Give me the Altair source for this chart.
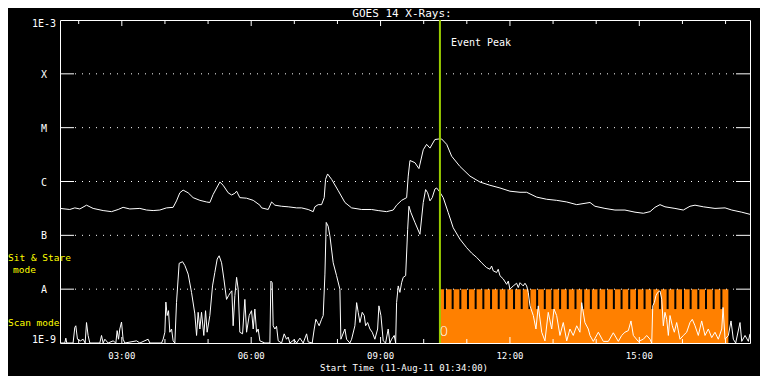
import altair as alt
import pandas as pd

# ---------------- data (time = minutes after 01:34:00 UT, 11-Aug-2011; flux as log10 W/m^2)
t_end = 960                   # 16 hours shown

long_t = [0, 13.6, 20.6, 27.6, 36.9, 46.1, 60.0, 71.7, 80.9, 87.8,
          97.1, 111.1, 120.4, 129.6, 138.9, 148.2, 157.4, 162.1, 166.7, 171.3,
          178.3, 185.2, 194.6, 203.9, 208.5, 213.1, 222.4, 227.0, 234.0, 238.7,
          243.3, 245.7, 250.2, 259.6, 268.8, 278.1, 280.5, 289.7, 294.4, 299.0,
          308.3, 317.5, 329.2, 336.1, 345.3, 352.3, 354.6, 359.2, 363.9, 367.6,
          369.5, 372.3, 377.9, 387.1, 396.4, 405.7, 419.6, 433.5, 442.7, 454.4,
          463.6, 468.3, 475.3, 482.3, 484.5, 486.9, 493.8, 499.4, 505.4, 510.1,
          514.7, 521.6, 527.2, 531.0, 538.0, 544.9, 556.4, 570.4, 584.3, 598.2,
          612.1, 626.0, 640.0, 649.3, 663.2, 677.1, 691.0, 705.0, 718.9, 737.4,
          744.3, 758.2, 772.1, 786.0, 800.0, 811.6, 820.9, 827.8, 834.8, 841.7,
          855.6, 867.2, 876.5, 883.5, 895.1, 911.3, 925.3, 934.6, 948.5, 960.0]
long_lg = [-6.50, -6.52, -6.49, -6.51, -6.44, -6.50, -6.54, -6.56, -6.52, -6.48,
           -6.51, -6.50, -6.53, -6.54, -6.53, -6.49, -6.48, -6.36, -6.21, -6.16,
           -6.21, -6.30, -6.35, -6.38, -6.39, -6.24, -6.01, -6.07, -6.21, -6.25,
           -6.22, -6.18, -6.30, -6.31, -6.35, -6.44, -6.49, -6.52, -6.38, -6.44,
           -6.46, -6.47, -6.49, -6.49, -6.52, -6.56, -6.47, -6.43, -6.43, -6.30,
           -5.96, -5.86, -5.96, -6.17, -6.39, -6.49, -6.52, -6.52, -6.54, -6.56,
           -6.53, -6.44, -6.35, -6.30, -5.90, -5.61, -5.65, -5.76, -5.41, -5.31,
           -5.38, -5.22, -5.21, -5.21, -5.31, -5.53, -5.72, -5.90, -6.01, -6.07,
           -6.12, -6.18, -6.20, -6.20, -6.29, -6.33, -6.35, -6.38, -6.43, -6.39,
           -6.46, -6.50, -6.53, -6.53, -6.57, -6.59, -6.56, -6.48, -6.43, -6.47,
           -6.50, -6.53, -6.46, -6.44, -6.47, -6.50, -6.49, -6.53, -6.57, -6.61]

short_pts = [
    (0, -9), (6.7, -9), (8.1, -8.91), (9.5, -9), (18.2, -9), (20.6, -8.71), (22.0, -8.68), (24.3, -8.93),
    (28.5, -8.96), (32.2, -8.93), (35.0, -9), (36.9, -8.62), (39.1, -8.86), (41.5, -9), (55.4, -9),
    (57.8, -8.86), (60.0, -9), (62.4, -8.93), (67.0, -9), (73.9, -8.96), (77.7, -9), (79.5, -8.77),
    (81.4, -8.93), (83.2, -8.74), (85.6, -8.61), (87.8, -8.93), (90.2, -9), (106.5, -8.96), (111.1, -9),
    (122.6, -8.93), (125.0, -9), (141.3, -9), (143.5, -8.93), (145.9, -8.80), (147.3, -8.24),
    (149.1, -8.49), (151.0, -8.40), (152.8, -8.80), (155.2, -8.74), (157.4, -8.96), (159.8, -9),
    (162.1, -8.25), (165.8, -7.52), (170.5, -7.49), (173.7, -7.56), (178.3, -7.72), (183.0, -8.06),
    (187.6, -8.46), (190.0, -8.86), (192.2, -8.43), (194.6, -8.74), (196.9, -8.43), (200.1, -8.86),
    (202.5, -8.40), (204.7, -8.80), (208.5, -8.49), (212.2, -7.94), (215.4, -7.69), (218.7, -7.44),
    (221.4, -7.38), (224.8, -7.51), (228.0, -7.81), (231.7, -8.19), (234.5, -8.12), (237.3, -8.06),
    (239.1, -8.03), (240.9, -8.68), (243.3, -8.12), (245.7, -7.78), (247.9, -8.00), (250.2, -8.80),
    (254.0, -8.83), (257.2, -8.19), (259.6, -8.80), (263.2, -8.49), (266.5, -8.40), (268.8, -8.74),
    (271.1, -8.37), (273.5, -8.80), (275.7, -8.74), (278.1, -8.96), (285.0, -9), (292.0, -9),
    (293.4, -7.85), (295.2, -7.88), (296.6, -8.68), (299.0, -8.74), (301.3, -8.69), (303.6, -8.96),
    (308.3, -9), (311.9, -8.83), (315.2, -8.93), (317.5, -8.89), (319.8, -9), (325.8, -8.94),
    (329.2, -9), (333.8, -8.91), (338.4, -9), (343.1, -8.83), (345.3, -8.98), (350.9, -9),
    (353.7, -8.74), (356.0, -8.56), (358.4, -8.62), (360.6, -8.68), (363.9, -8.56), (366.2, -8.49),
    (368.6, -7.72), (370.4, -6.76), (373.1, -6.83), (375.5, -7.01), (380.1, -7.51), (384.8, -7.75),
    (389.4, -8.00), (390.8, -8.93), (396.4, -8.74), (398.7, -8.93), (403.3, -9), (405.7, -8.93),
    (410.3, -8.68), (412.7, -8.25), (414.9, -8.43), (417.3, -8.62), (420.5, -8.43), (423.3, -8.49),
    (425.2, -8.68), (428.0, -8.62), (431.2, -8.74), (434.4, -8.80), (438.1, -8.93), (441.9, -8.74),
    (443.7, -8.31), (446.5, -8.49), (449.7, -8.96), (453.0, -9), (456.6, -8.74), (459.0, -9),
    (461.4, -8.93), (465.0, -8.86), (467.0, -9), (468.3, -8.25), (470.6, -7.94), (472.9, -8.06),
    (475.3, -7.88), (477.5, -7.78), (480.9, -7.75), (483.7, -6.89), (485.5, -6.46), (488.3, -6.58),
    (493.8, -6.76), (500.8, -6.98), (505.4, -6.39), (508.7, -6.15), (511.5, -6.21), (514.7, -6.36),
    (517.9, -6.30), (521.6, -6.14), (524.0, -6.12), (527.6, -6.18), (533.2, -6.30), (540.2, -6.58),
    (547.1, -6.86), (556.4, -7.07), (565.8, -7.23), (572.7, -7.33), (579.7, -7.41), (586.6, -7.51),
    (591.2, -7.57), (593.6, -7.60), (598.2, -7.63), (600.5, -7.57), (602.8, -7.66), (607.5, -7.69),
    (609.7, -7.63), (612.1, -7.75), (616.7, -7.81), (621.4, -7.91), (623.7, -7.85), (626.0, -8.00),
    (630.6, -7.94), (635.3, -7.89), (637.6, -7.97), (640.0, -7.88), (644.5, -7.94), (646.9, -7.89),
    (649.3, -7.94), (651.5, -8.06), (653.9, -8.31), (658.5, -8.49), (662.2, -8.74), (665.4, -8.31),
    (670.2, -8.80), (674.7, -8.96), (679.3, -8.43), (684.1, -8.74), (687.3, -8.37), (691.0, -8.49),
    (695.6, -8.86), (700.2, -8.62), (705.0, -8.96), (709.5, -8.74), (714.1, -8.86), (718.9, -8.68),
    (723.4, -8.80), (725.8, -8.25), (730.3, -8.62), (735.0, -8.74), (737.4, -8.86), (742.0, -8.97),
    (749.0, -8.80), (755.9, -8.97), (762.9, -8.97), (769.8, -8.81), (776.8, -8.97), (781.5, -8.86),
    (786.0, -8.80), (790.7, -8.77), (794.4, -8.59), (797.7, -8.86), (804.6, -8.97), (811.6, -8.93),
    (816.3, -8.86), (820.9, -8.93), (823.3, -9), (824.7, -8.31), (826.9, -8.25), (829.2, -8.12),
    (831.6, -8.06), (834.8, -8.03), (837.2, -8.19), (839.4, -8.68), (841.7, -8.43), (844.1, -8.56),
    (846.4, -8.86), (848.7, -8.49), (851.9, -8.68), (854.7, -8.80), (858.0, -8.62), (862.6, -8.93),
    (867.2, -8.86), (871.9, -8.80), (876.5, -8.62), (879.7, -8.56), (883.5, -8.68), (888.1, -8.86),
    (892.8, -8.59), (897.4, -8.86), (902.0, -8.74), (906.7, -8.90), (911.3, -8.80), (915.9, -8.93),
    (920.7, -8.74), (922.5, -8.34), (925.3, -8.93), (929.9, -8.86), (933.6, -8.59), (936.8, -8.93),
    (940.1, -9), (946.1, -8.62), (948.5, -8.97), (953.1, -8.86), (957.7, -8.97), (960.0, -8.83),
]

level_exp = [-9, -8, -7, -6, -5, -4, -3]
level_labels = ["1E-9", "A", "B", "C", "M", "X", "1E-3"]

hour_ticks = [26, 86, 146, 206, 266, 326, 386, 446, 506, 566, 626, 686, 746, 806, 866, 926]
major_ticks = [86, 266, 446, 626, 806]
major_labels = ["03:00", "06:00", "09:00", "12:00", "15:00"]

peak_t = 528.6                   # event peak ~10:22:36
mode_end_t = 929.9               # end of the mode bar
scan_base_lg = -8.37             # top of the solid (scan mode) band
stare_top_lg = -8.0              # top of the teeth (A level)
stare_gaps = [534.2, 544.9, 555.6, 566.2, 576.9, 587.6, 598.3, 609.0, 619.7, 630.3,
              641.0, 651.7, 662.4, 673.1, 683.7, 694.4, 705.1, 715.8, 726.5, 737.2,
              747.8, 758.5, 769.2, 779.9, 790.6, 801.3, 811.9, 822.6, 833.3, 844.0,
              854.7, 865.4, 876.0, 886.7, 897.4, 908.1, 918.8]
gap_len = 2.8

title_text = "GOES 14 X-Rays:"
xtitle_text = "Start Time (11-Aug-11 01:34:00)"

# ---------------- style
W, H = 690, 323
FONT = "DejaVu Sans Mono"
ORANGE = "#ff8000"
GREEN = "#99cc00"
YELLOW = "#ffff00"

long_df = pd.DataFrame({"t": long_t, "f": [10 ** v for v in long_lg]})
short_df = pd.DataFrame({"t": [p[0] for p in short_pts], "f": [10 ** p[1] for p in short_pts]})
levels_df = pd.DataFrame({"f": [10.0 ** e for e in level_exp], "lab": level_labels})
inner_levels_df = levels_df.iloc[1:-1]
top_lab_df = levels_df.iloc[[-1]]
bot_lab_df = levels_df.iloc[[0]]
minor_df = pd.DataFrame({"t": [h for h in hour_ticks if h not in major_ticks]})
major_df = pd.DataFrame({"t": major_ticks, "lab": major_labels})
base_df = pd.DataFrame({"t0": [peak_t], "t1": [mode_end_t], "y0": [1e-9], "y1": [10 ** stare_top_lg]})
gaps_df = pd.DataFrame({"t0": stare_gaps, "t1": [g + gap_len for g in stare_gaps],
                        "y0": [10 ** scan_base_lg] * len(stare_gaps),
                        "y1": [10 ** stare_top_lg] * len(stare_gaps)})
peak_df = pd.DataFrame({"t": [peak_t]})
event_df = pd.DataFrame({"t": [peak_t], "f": [10 ** -3.43], "txt": ["Event Peak"]})
zero_df = pd.DataFrame({"t": [peak_t], "f": [10 ** -8.79], "txt": ["0"]})
mode_left_df = pd.DataFrame({"f": [10 ** -7.43, 10 ** -8.63], "txt": ["Sit & Stare", "Scan mode"]})
mode_mid_df = pd.DataFrame({"f": [10 ** -7.64], "txt": ["mode"]})
title_df = pd.DataFrame({"txt": [title_text]})
xtitle_df = pd.DataFrame({"txt": [xtitle_text]})

xs = alt.Scale(domain=[0, t_end], nice=False, zero=False)
ys = alt.Scale(type="log", domain=[1e-9, 1e-3], nice=False)


def X(field):
    return alt.X(field, type="quantitative", scale=xs, axis=None)


def Y(field):
    return alt.Y(field, type="quantitative", scale=ys, axis=None)


base = alt.Chart(base_df).mark_rect(color=ORANGE).encode(x=X("t0"), x2="t1", y=Y("y0"), y2="y1")
gaps = alt.Chart(gaps_df).mark_rect(color="black").encode(x=X("t0"), x2="t1", y=Y("y0"), y2="y1")
grid = alt.Chart(inner_levels_df).mark_rule(color="white", strokeDash=[1, 6]).encode(
    y=Y("f"), x=alt.value(15), x2=alt.value(W - 15))
long_line = alt.Chart(long_df).mark_line(color="white", strokeWidth=1, clip=True).encode(
    x=X("t"), y=Y("f"))
short_line = alt.Chart(short_df).mark_line(color="white", strokeWidth=1, clip=True).encode(
    x=X("t"), y=Y("f"))
peak_rule = alt.Chart(peak_df).mark_rule(color=GREEN, strokeWidth=2).encode(
    x=X("t"), y=alt.value(0), y2=alt.value(H))

tick_l = alt.Chart(inner_levels_df).mark_rule(color="white").encode(
    y=Y("f"), x=alt.value(0), x2=alt.value(14))
tick_r = alt.Chart(inner_levels_df).mark_rule(color="white").encode(
    y=Y("f"), x=alt.value(W - 14), x2=alt.value(W))
top_minor = alt.Chart(minor_df).mark_rule(color="white").encode(
    x=X("t"), y=alt.value(0), y2=alt.value(4))
top_major = alt.Chart(major_df).mark_rule(color="white").encode(
    x=X("t"), y=alt.value(0), y2=alt.value(6))
bot_minor = alt.Chart(minor_df).mark_rule(color="white").encode(
    x=X("t"), y=alt.value(H - 4), y2=alt.value(H))
bot_major = alt.Chart(major_df).mark_rule(color="white").encode(
    x=X("t"), y=alt.value(H - 6), y2=alt.value(H))

ylab_mid = alt.Chart(inner_levels_df).mark_text(color="white", font=FONT, fontSize=10,
                                                align="center", baseline="middle", dy=1).encode(
    y=Y("f"), x=alt.value(-16), text="lab:N")
ylab_top = alt.Chart(top_lab_df).mark_text(color="white", font=FONT, fontSize=10,
                                           align="center", baseline="middle", dy=4).encode(
    y=Y("f"), x=alt.value(-16), text="lab:N")
ylab_bot = alt.Chart(bot_lab_df).mark_text(color="white", font=FONT, fontSize=10,
                                           align="center", baseline="middle", dy=-3).encode(
    y=Y("f"), x=alt.value(-16), text="lab:N")
xlab = alt.Chart(major_df).mark_text(color="white", font=FONT, fontSize=9,
                                     align="center", baseline="middle").encode(
    x=X("t"), y=alt.value(H + 12.5), text="lab:N")
xtitle = alt.Chart(xtitle_df).mark_text(color="white", font=FONT, fontSize=9,
                                        align="center", baseline="middle").encode(
    x=alt.value(W / 2 - 1), y=alt.value(H + 25), text="txt:N")
title = alt.Chart(title_df).mark_text(color="white", font=FONT, fontSize=11,
                                      align="center", baseline="alphabetic").encode(
    x=alt.value(W / 2 - 3), y=alt.value(-3), text="txt:N")

event_txt = alt.Chart(event_df).mark_text(color="white", font=FONT, fontSize=10, align="left",
                                          baseline="middle", dx=11).encode(
    x=X("t"), y=Y("f"), text="txt:N")
zero_txt = alt.Chart(zero_df).mark_text(color="white", font="DejaVu Sans", fontSize=14,
                                        fontWeight=200, align="center", baseline="middle",
                                        dx=4).encode(
    x=X("t"), y=Y("f"), text="txt:N")
mode_left = alt.Chart(mode_left_df).mark_text(color=YELLOW, font=FONT, fontSize=9.5,
                                              align="left", baseline="middle").encode(
    x=alt.value(-52), y=Y("f"), text="txt:N")
mode_mid = alt.Chart(mode_mid_df).mark_text(color=YELLOW, font=FONT, fontSize=9.5,
                                            align="center", baseline="middle").encode(
    x=alt.value(-35.5), y=Y("f"), text="txt:N")

chart = alt.layer(
    base, gaps, grid, long_line, short_line, peak_rule,
    tick_l, tick_r, top_minor, top_major, bot_minor, bot_major,
    ylab_mid, ylab_top, ylab_bot, xlab, xtitle, title,
    event_txt, zero_txt, mode_left, mode_mid,
).properties(
    width=W, height=H,
    padding={"left": 52, "top": 12, "right": 10, "bottom": 33},
    autosize=alt.AutoSizeParams(type="none"),
).configure(background="black").configure_view(stroke="white", strokeWidth=1)

chart.save("out.html", embed_options={"renderer": "svg", "actions": False})
